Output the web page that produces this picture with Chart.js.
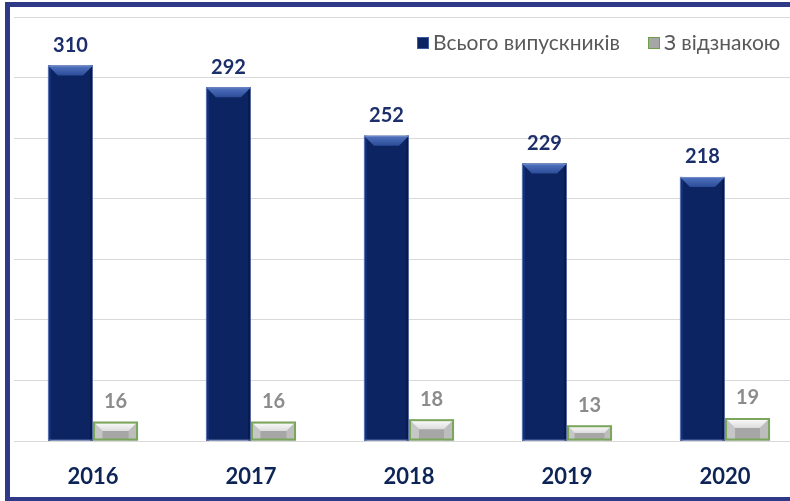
<!DOCTYPE html>
<html>
<head>
  <title>Випускники</title>
  <script src="https://cdn.jsdelivr.net/npm/chart.js"></script>
  <style>
    html, body {
      margin: 0;
      padding: 0;
      background: #fff;
      overflow: hidden;
      width: 790px;
      height: 501px;
    }

    .frame {
      position: absolute;
      left: 5px;
      top: 2px;
      width: 820px;
      height: 490px;
      border: 5px solid #2e3a87;
      background: #fff;
    }

    #chart {
      position: absolute;
      left: 10px;
      top: 7px;
    }

    .legend {
      position: absolute;
      top: 29px;
      left: 417px;
      font-family: Lato, "Open Sans", sans-serif;
      font-size: 21px;
      color: #595959;
      white-space: nowrap;
    }

    .legend span.item {
      display: inline-block;
      margin-right: 28px;
    }

    .legend i {
      display: inline-block;
      width: 10px;
      height: 10px;
      margin-right: 4px;
      vertical-align: 1px;
    }
  </style>
</head>
<body>
  <div class="frame"></div>
  <canvas id="chart" width="800" height="488"></canvas>
  <div class="legend" id="legend"></div>

  <script>
    const years = ['2016', '2017', '2018', '2019', '2020'];
    const seriesNames = ['Всього випускників', 'З відзнакою'];
    const totalGrads = [310, 292, 252, 229, 218];
    const honorsGrads = [16, 16, 18, 13, 19];

    const FONT = 'Lato, "Open Sans", sans-serif';

    // bevelled look of the bars + value labels above them
    const bevelPlugin = {
      id: 'bevel',
      afterDatasetsDraw(chart) {
        const ctx = chart.ctx;
        chart.data.datasets.forEach((ds, di) => {
          const meta = chart.getDatasetMeta(di);
          meta.data.forEach((bar, i) => {
            const p = bar.getProps(['x', 'y', 'base', 'width'], true);
            const l = p.x - p.width / 2, r = p.x + p.width / 2;
            const t = p.y, b = p.base;
            const bv = Math.min(10, (b - t) / 2);
            ctx.save();
            if (di === 0) {
              ctx.fillStyle = '#143079';
              ctx.fillRect(l, t, 3, b - t);
              ctx.fillStyle = '#081a4f';
              ctx.fillRect(r - 3, t, 3, b - t);
              const g = ctx.createLinearGradient(0, t, 0, t + bv);
              g.addColorStop(0, '#5274c0');
              g.addColorStop(1, '#2c4c98');
              ctx.fillStyle = g;
              ctx.beginPath();
              ctx.moveTo(l, t);
              ctx.lineTo(r, t);
              ctx.lineTo(r - bv, t + bv);
              ctx.lineTo(l + bv, t + bv);
              ctx.closePath();
              ctx.fill();
              ctx.strokeStyle = 'rgba(140,160,210,0.6)';
              ctx.lineWidth = 1;
              ctx.strokeRect(l + 0.5, t + 0.5, r - l - 1, b - t - 1);
            } else {
              ctx.fillStyle = '#c6c6c6';
              ctx.beginPath();
              ctx.moveTo(l, t); ctx.lineTo(l + bv, t + bv); ctx.lineTo(l + bv, b); ctx.lineTo(l, b);
              ctx.closePath(); ctx.fill();
              ctx.fillStyle = '#bdbdbd';
              ctx.beginPath();
              ctx.moveTo(r, t); ctx.lineTo(r - bv, t + bv); ctx.lineTo(r - bv, b); ctx.lineTo(r, b);
              ctx.closePath(); ctx.fill();
              const g = ctx.createLinearGradient(0, t, 0, t + bv);
              g.addColorStop(0, '#ffffff');
              g.addColorStop(1, '#dcdcdc');
              ctx.fillStyle = g;
              ctx.beginPath();
              ctx.moveTo(l, t);
              ctx.lineTo(r, t);
              ctx.lineTo(r - bv, t + bv);
              ctx.lineTo(l + bv, t + bv);
              ctx.closePath();
              ctx.fill();
              ctx.strokeStyle = '#7aa65a';
              ctx.lineWidth = 2;
              ctx.strokeRect(l + 1, t + 1, r - l - 2, b - t - 2);
            }
            ctx.fillStyle = di === 0 ? '#1c2f6b' : '#8c8c8c';
            ctx.font = 'bold 20px ' + FONT;
            ctx.textAlign = 'center';
            ctx.textBaseline = 'middle';
            ctx.fillText(ds.data[i], p.x, t - 20);
            ctx.restore();
          });
        });
      }
    };

    const ctx = document.getElementById('chart').getContext('2d');
    const chart = new Chart(ctx, {
      type: 'bar',
      data: {
        labels: years,
        datasets: [{
          label: seriesNames[0],
          data: totalGrads,
          backgroundColor: '#0c2462',
          borderWidth: 0,
          categoryPercentage: 0.57,
          barPercentage: 1
        }, {
          label: seriesNames[1],
          data: honorsGrads,
          backgroundColor: '#a6a6a6',
          borderWidth: 0,
          categoryPercentage: 0.57,
          barPercentage: 1
        }]
      },
      options: {
        responsive: false,
        animation: false,
        devicePixelRatio: 1,
        layout: {
          padding: { top: 10, left: 4, right: 6, bottom: 0 }
        },
        plugins: {
          legend: { display: false },
          tooltip: { enabled: false }
        },
        scales: {
          x: {
            grid: { display: false, drawTicks: false },
            border: { display: false },
            afterFit: s => { s.height = 54; },
            ticks: {
              padding: 23,
              color: '#0d2456',
              font: { family: FONT, size: 22, weight: 'bold' }
            }
          },
          y: {
            min: 0,
            max: 350,
            grid: { color: '#d9d9d9', lineWidth: 1, drawTicks: false },
            border: { display: false },
            ticks: { display: false, stepSize: 50 }
          }
        }
      },
      plugins: [bevelPlugin]
    });

    const legendColors = [
      'background:#0c2462;border:1px solid #3b5aa5;',
      'background:#a6a6a6;border:1px solid #6f9f4c;'
    ];
    document.getElementById('legend').innerHTML = seriesNames
      .map((n, i) => `<span class="item"><i style="${legendColors[i]}"></i>${n}</span>`)
      .join('');
  </script>
</body>
</html>
